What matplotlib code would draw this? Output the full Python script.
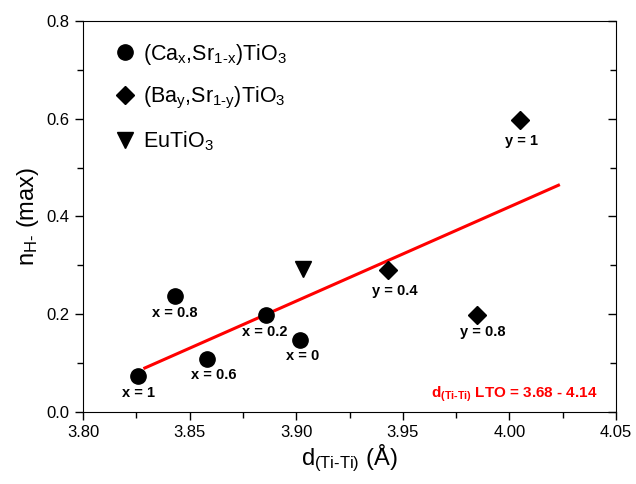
import matplotlib.pyplot as plt

plt.rcParams['font.family'] = ['Liberation Sans', 'DejaVu Sans']
plt.rcParams['mathtext.fontset'] = 'custom'
plt.rcParams['mathtext.rm'] = 'Liberation Sans'
plt.rcParams['mathtext.bf'] = 'Liberation Sans:bold'
plt.rcParams['mathtext.default'] = 'regular'

# (Ca_x, Sr_1-x)TiO3
ca_d = [3.826, 3.843, 3.858, 3.886, 3.902]
ca_n = [0.074, 0.238, 0.108, 0.198, 0.147]
ca_lab = ['x = 1', 'x = 0.8', 'x = 0.6', 'x = 0.2', 'x = 0']

# (Ba_y, Sr_1-y)TiO3
ba_d = [4.005, 3.943, 3.985]
ba_n = [0.597, 0.290, 0.198]
ba_lab = ['y = 1', 'y = 0.4', 'y = 0.8']

# EuTiO3
eu_d = [3.903]
eu_n = [0.292]

# linear fit
fit_d = [3.829, 4.023]
fit_n = [0.090, 0.464]

HY = '\u2010'  # plain hyphen, mathtext would turn "-" into a minus

fig = plt.figure(figsize=(6.36, 4.84), dpi=100)
ax = fig.add_axes([0.1305, 0.1488, 0.8381, 0.8078])

ax.plot(fit_d, fit_n, color='red', lw=2.2, zorder=2)
h1, = ax.plot(ca_d, ca_n, 'o', color='black', ms=11, zorder=3,
              label=r'(Ca$_{x}$,Sr$_{1' + HY + r'x}$)TiO$_{3}$')
h2, = ax.plot(ba_d, ba_n, 'D', color='black', ms=9.5, zorder=3,
              label=r'(Ba$_{y}$,Sr$_{1' + HY + r'y}$)TiO$_{3}$')
h3, = ax.plot(eu_d, eu_n, 'v', color='black', ms=11.5, zorder=3,
              label=r'EuTiO$_{3}$')

# labels under the points (offsets in pixels)
ca_off = [(0, -17), (0, -17), (7, -16), (-2, -17), (2, -16)]
ba_off = [(1, -21), (7, -21), (5, -17)]
for d, n, t, o in zip(ca_d, ca_n, ca_lab, ca_off):
    ax.annotate(t, (d, n), xytext=o, textcoords='offset pixels',
                ha='center', va='center', fontsize=10.5, fontweight='bold')
for d, n, t, o in zip(ba_d, ba_n, ba_lab, ba_off):
    ax.annotate(t, (d, n), xytext=o, textcoords='offset pixels',
                ha='center', va='center', fontsize=10.5, fontweight='bold')

ax.text(0.965, 0.045, r'd$_{\mathbf{(Ti' + HY + r'Ti)}}$ LTO = 3.68 - 4.14',
        transform=ax.transAxes, ha='right', va='center',
        color='red', fontsize=11, fontweight='bold')

leg = ax.legend(handles=[h1, h2, h3], loc='upper left', frameon=False,
                fontsize=15.5, numpoints=1, handlelength=1.0,
                handletextpad=0.35, labelspacing=0.85,
                bbox_to_anchor=(0.03, 0.985), borderaxespad=0.3)

ax.set_xlim(3.80, 4.05)
ax.set_ylim(0.0, 0.8)
ax.set_xticks([3.80, 3.85, 3.90, 3.95, 4.00, 4.05])
ax.set_yticks([0.0, 0.2, 0.4, 0.6, 0.8])
ax.set_xticklabels(['3.80', '3.85', '3.90', '3.95', '4.00', '4.05'])
ax.set_yticklabels(['0.0', '0.2', '0.4', '0.6', '0.8'])
ax.set_xticks([3.825, 3.875, 3.925, 3.975, 4.025], minor=True)
ax.set_yticks([0.1, 0.3, 0.5, 0.7], minor=True)
ax.tick_params(which='major', direction='out', length=6, width=1,
               labelsize=12, right=True, top=False)
ax.tick_params(which='minor', direction='out', length=4, width=1,
               right=True, top=False)
ax.tick_params(axis='y', which='both', labelright=False)
# right side ticks point inward
for t in ax.yaxis.get_major_ticks() + ax.yaxis.get_minor_ticks():
    t.tick2line.set_marker(0)

ax.set_xlabel(r'd$_{(Ti' + HY + r'Ti)}$ (Å)', fontsize=17, labelpad=2)
ax.set_ylabel(r'n$_{H' + HY + r'}$ (max)', fontsize=17, labelpad=4)

plt.savefig('out.png', dpi=100)
